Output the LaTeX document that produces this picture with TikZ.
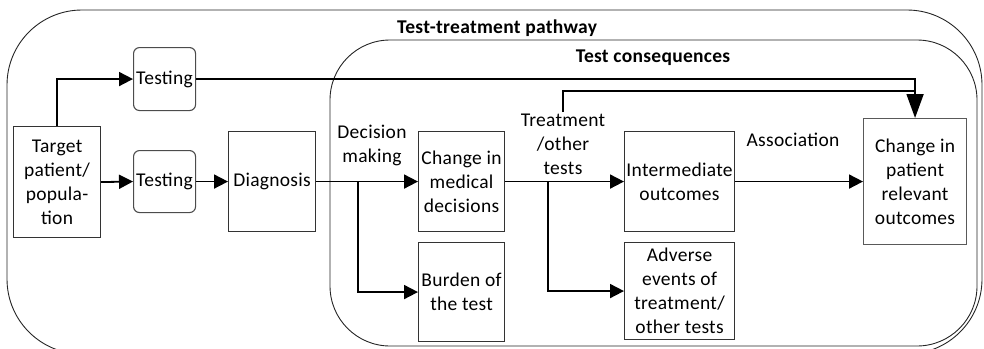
\documentclass[tikz,border=0pt]{standalone}
\usepackage{fontspec}
\setmainfont{Carlito}[LetterSpace=1.5]
\usetikzlibrary{arrows.meta}
\begin{document}
\begin{tikzpicture}[x=1pt,y=-1pt,
  font=\fontsize{19.5}{24}\selectfont,
  box/.style={draw=black!80,line width=1.1pt,inner sep=0pt,align=center,anchor=north west},
  rbox/.style={box,rounded corners=6pt,draw=black!70},
  lbl/.style={inner sep=0pt,align=center},
  flow/.style={line width=1.8pt,-{Triangle[length=14pt,width=14pt]}},
  flowline/.style={line width=1.8pt},
  frame/.style={draw=black!85,line width=0.9pt}]
\useasboundingbox (0,0) rectangle (984,348);
\clip (0,0) rectangle (984,348);

% enclosing frames
\draw[frame,rounded corners=75pt] (7,10) rectangle (982,354);
\draw[frame,rounded corners=60pt] (330,40) rectangle (977,346);
\node[lbl,font=\fontsize{19.5}{24}\selectfont\bfseries] (t1) at (497,28) {Test-treatment pathway};
\node[lbl,font=\fontsize{19.5}{24}\selectfont\bfseries] (t2) at (653,58) {Test consequences};

% boxes
\node[box,minimum width=87pt,minimum height=111pt] (tgt) at (13,126) {Target\\patient/\\popula-\\tion};
\node[rbox,minimum width=62pt,minimum height=63pt] (test1) at (133,47) {Testing};
\node[rbox,minimum width=62pt,minimum height=62pt] (test2) at (133,150) {Testing};
\node[box,minimum width=87pt,minimum height=100pt] (diag) at (228,131) {Diagnosis};
\node[box,minimum width=86pt,minimum height=100pt] (cmd) at (418,131) {Change in\\medical\\decisions};
\node[box,minimum width=86pt,minimum height=99pt] (burden) at (418,242) {Burden of\\the test};
\node[box,minimum width=110pt,minimum height=100pt] (inter) at (624,131) {Intermediate\\outcomes};
\node[box,minimum width=110pt,minimum height=97pt] (adv) at (624,242) {Adverse\\events of\\treatment/\\other tests};
\node[box,draw=black!65,minimum width=103pt,minimum height=126pt] (cpro) at (863,118) {Change in\\patient\\relevant\\outcomes};

% connector labels
\node[lbl] (dm) at (372,145) {Decision\\making};
\node[lbl] (trt) at (563,144) {Treatment\\/other\\tests};
\node[lbl] (assoc) at (793,140) {Association};

% branch points
\coordinate (b1) at (358,181);
\coordinate (b2) at (548,181);
\coordinate (ts) at (563,112);
\coordinate (tj) at (914.5,91);

% connectors
\draw[flow] (tgt.north) |- (test1.west);
\draw[flow] (tgt.east) -- (test2.west);
\draw[flow] (test2.east) -- (diag.west);
\draw[flow] (diag.east) -- (cmd.west);
\draw[flow] (b1) |- (burden.west);
\draw[flow] (cmd.east) -- (inter.west);
\draw[flow] (b2) |- (adv.west);
\draw[flow] (inter.east) -- (cpro.west);
\draw[flowline] (ts) |- (tj);
\draw[line width=1.8pt,-{Triangle[length=24pt,width=17pt]}] (test1.east) -| (cpro.north);
\end{tikzpicture}
\end{document}
